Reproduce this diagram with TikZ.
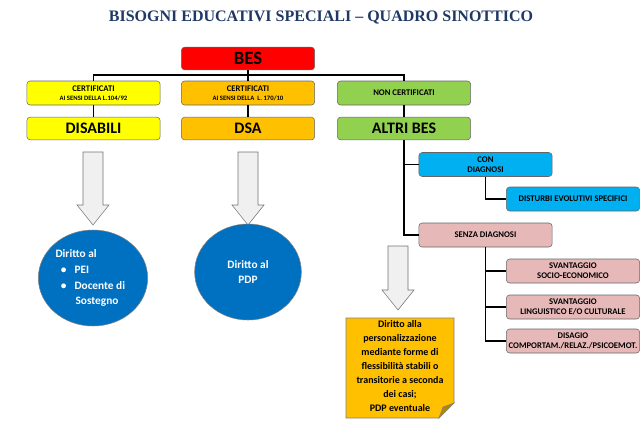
\documentclass[tikz,border=0pt]{standalone}
\usepackage{fontspec}
\setmainfont{Carlito}
\newfontfamily\titlefont{Liberation Serif}
\usetikzlibrary{shapes.geometric}
\definecolor{cYel}{HTML}{FFFF00}
\definecolor{cOra}{HTML}{FFC000}
\definecolor{cGre}{HTML}{92D050}
\definecolor{cBlu}{HTML}{00B0F0}
\definecolor{cPin}{HTML}{E6B9B8}
\definecolor{cCir}{HTML}{0070C0}
\definecolor{cTit}{HTML}{1F3864}
\begin{document}
\begin{tikzpicture}[x=0.75pt,y=-0.75pt,font=\bfseries,
 box/.style={draw=black!60,rounded corners=2.5pt,minimum width=100pt,minimum height=17pt,inner sep=1pt,align=center},
 sbox/.style={box,minimum height=18pt,font=\bfseries\fontsize{6.5}{7.5}\selectfont},
 line/.style={line width=1.4pt},
 arrs/.style={draw=black!55,fill=black!6},
 circ/.style={ellipse,draw=black!50,fill=cCir,text=white,align=left,font=\bfseries\fontsize{8.5}{11}\selectfont}]
\useasboundingbox (0,0) rectangle (643,430);
\node[font=\titlefont\bfseries\fontsize{12}{13}\selectfont,text=cTit] (title) at (321,17) {BISOGNI EDUCATIVI SPECIALI – QUADRO SINOTTICO};
\node[box,fill=red,font=\bfseries\fontsize{14}{15}\selectfont] (bes) at (248,58.5) {BES};
\node[sbox,fill=cYel] (c1) at (93.5,93) {CERTIFICATI\\[-1pt]{\fontsize{5}{6}\selectfont AI SENSI DELLA L.104/92}};
\node[sbox,fill=cOra] (c2) at (248,93) {CERTIFICATI\\[-1pt]{\fontsize{5}{6}\selectfont AI SENSI DELLA \ L. 170/10}};
\node[sbox,fill=cGre] (c3) at (404,93) {NON CERTIFICATI};
\node[box,fill=cYel,font=\bfseries\fontsize{12}{13}\selectfont] (dis) at (93.5,128.5) {DISABILI};
\node[box,fill=cOra,font=\bfseries\fontsize{12}{13}\selectfont] (dsa) at (248,128.5) {DSA};
\node[box,fill=cGre,font=\bfseries\fontsize{12}{13}\selectfont] (alt) at (404,128.5) {ALTRI BES};
\coordinate (hb) at (248,75);
\draw[line] (bes.south) -- (hb);
\draw[line] (c1.north) |- (hb) -| (c3.north);
\draw[line] (hb) -- (c2.north);
\draw[line] (c1) -- (dis); \draw[line] (c2) -- (dsa); \draw[line] (c3) -- (alt);
\node[sbox,fill=cBlu] (con) at (485.5,164.5) {CON\\DIAGNOSI};
\node[sbox,fill=cBlu] (dev) at (573,199) {DISTURBI EVOLUTIVI SPECIFICI};
\node[sbox,fill=cPin] (sen) at (485.5,235) {SENZA DIAGNOSI};
\node[sbox,fill=cPin] (sv1) at (573,271) {SVANTAGGIO\\SOCIO-ECONOMICO};
\node[sbox,fill=cPin] (sv2) at (573,307) {SVANTAGGIO\\LINGUISTICO E/O CULTURALE};
\node[sbox,fill=cPin] (dsg) at (573,341) {DISAGIO\\COMPORTAM./RELAZ./PSICOEMOT.};
\draw[line] (alt.south) |- (con.west);
\draw[line] (alt.south) |- (sen.west);
\draw[line] (con.south) |- (dev.west);
\draw[line] (sen.south) |- (sv1.west);
\draw[line] (sen.south) |- (sv2.west);
\draw[line] (sen.south) |- (dsg.west);
\foreach \cx/\ty/\by in {93/152/225, 248/152/225, 398/246/310}{
 \draw[arrs] (\cx-10,\ty) -- (\cx+10,\ty) -- (\cx+10,\by-20) -- (\cx+16,\by-20) -- (\cx,\by) -- (\cx-16,\by-20) -- (\cx-10,\by-20) -- cycle;
}
\node[circ,minimum width=82pt,minimum height=72pt] (e1) at (93,278) {\hspace*{-4pt}Diritto al\\[1pt]
 \textbullet\hspace{6pt}PEI\\[1pt] \textbullet\hspace{6pt}Docente di\\ \hspace*{11pt}Sostegno};
\node[circ,minimum width=80pt,minimum height=72pt,align=center] (e2) at (248,272) {Diritto al\\PDP};
\draw[draw=black!50,fill=cOra] (346,318) -- (454,318) -- (454,403) -- (439,418) -- (346,418) -- cycle;
\draw[draw=black!50,fill=cOra!70!black] (454,403) -- (443,407) -- (439,418) -- cycle;
\node[align=center,font=\bfseries\fontsize{7.5}{10.5}\selectfont] (note) at (400,366) {Diritto alla\\personalizzazione\\mediante forme di\\flessibilità stabili o\\transitorie a seconda\\dei casi;\\PDP eventuale};
\end{tikzpicture}
\end{document}
